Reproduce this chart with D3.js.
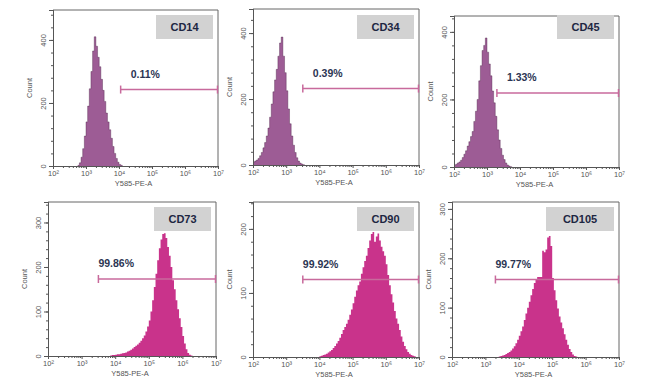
<!DOCTYPE html>
<html>
<head>
<meta charset="utf-8">
<script src="https://cdn.jsdelivr.net/npm/d3@7"></script>
<style>
  body { margin: 0; background: #fff; }
  svg { font-family: "Liberation Sans", Arial, sans-serif; }
  .axis path, .axis line { stroke: #555; }
  .axis text { fill: #555; font-size: 7.5px; }
</style>
</head>
<body>
<div id="chart"></div>
<script>
// data
const markers = ["CD14", "CD34", "CD45", "CD73", "CD90", "CD105"];
const percents = ["0.11%", "0.39%", "1.33%", "99.86%", "99.92%", "99.77%"];
const yMaxes = [495, 473, 447, 346, 242, 314];
const yMajor = [[0, 200, 400], [0, 200, 400], [0, 200, 400], [0, 100, 200, 300], [0, 100, 200], [0, 100, 200, 300]];
const gateStart = [4.05, 3.5, 3.3, 3.5, 3.5, 3.3];   // log10 of gate left end
const binWidth = 0.05;
const binStart = [2.75, 2.0, 2.0, 3.85, 4.0, 3.4];   // log10 of first bin

const countsCD14 = [2, 10, 28, 55, 95, 140, 190, 245, 300, 365, 410, 380, 345, 315, 275, 240, 205, 168, 140, 115, 88, 62, 40, 24, 12, 5, 2];
const countsCD34 = [8, 12, 15, 20, 28, 38, 52, 68, 88, 112, 145, 185, 222, 258, 290, 330, 370, 388, 330, 280, 225, 170, 125, 88, 60, 38, 22, 12, 6, 3, 1];
const countsCD45 = [5, 8, 12, 15, 20, 28, 38, 48, 62, 75, 90, 105, 135, 165, 200, 255, 300, 345, 360, 382, 340, 305, 270, 225, 190, 150, 110, 80, 55, 35, 22, 12, 6, 3, 1];
const countsCD73 = [1, 2, 2, 3, 4, 4, 5, 6, 7, 8, 10, 12, 14, 17, 20, 23, 26, 30, 34, 40, 46, 55, 66, 80, 100, 125, 155, 185, 215, 242, 262, 274, 276, 265, 245, 225, 200, 170, 150, 125, 105, 85, 65, 45, 28, 15, 7, 3, 1];
const countsCD90 = [1, 2, 3, 4, 5, 7, 9, 11, 14, 17, 21, 25, 30, 36, 42, 47, 52, 58, 66, 74, 84, 94, 104, 112, 118, 130, 140, 150, 158, 170, 182, 192, 195, 180, 188, 193, 182, 172, 165, 158, 145, 128, 112, 98, 85, 72, 60, 52, 42, 32, 24, 17, 12, 8, 5, 3, 2, 1];
const countsCD105 = [1, 2, 3, 4, 6, 8, 10, 13, 17, 22, 28, 35, 43, 52, 62, 75, 88, 100, 112, 125, 138, 150, 158, 162, 162, 162, 215, 212, 218, 242, 245, 225, 160, 135, 115, 98, 82, 70, 58, 46, 35, 25, 16, 10, 5, 2, 1];
const allCounts = [countsCD14, countsCD34, countsCD45, countsCD73, countsCD90, countsCD105];

// layout of each small plot (pixels)
const frames = [
  {l: 53, r: 218, t: 10, b: 166},
  {l: 253, r: 419, t: 9, b: 165},
  {l: 454, r: 619, t: 16, b: 167},
  {l: 48, r: 216, t: 202, b: 356},
  {l: 253, r: 419, t: 202, b: 357},
  {l: 452, r: 619, t: 202, b: 357}
];

const width = 650, height = 388;
const sup = {2: "²", 3: "³", 4: "⁴", 5: "⁵", 6: "⁶", 7: "⁷"};

const svg = d3.select("#chart").append("svg")
  .attr("width", width).attr("height", height);

markers.forEach(function(name, i) {
  const f = frames[i];
  const top = i < 3;
  const fill = top ? "#9d5c95" : "#c9338b";

  const x = d3.scaleLog().domain([1e2, 1e7]).range([f.l, f.r]);
  const y = d3.scaleLinear().domain([0, yMaxes[i]]).range([f.b, f.t]);
  const g = svg.append("g");

  // frame: top + right borders
  g.append("path")
    .attr("d", `M${f.l},${f.t}H${f.r}V${f.b}`)
    .attr("fill", "none").attr("stroke", "#666").attr("stroke-width", 1);

  // histogram as steps
  const counts = allCounts[i];
  const pts = counts.map((c, k) => ({lx: binStart[i] + k * binWidth, c: c}));
  pts.push({lx: binStart[i] + counts.length * binWidth, c: 0});
  const area = d3.area()
    .curve(d3.curveStepAfter)
    .x(d => x(Math.pow(10, d.lx)))
    .y0(f.b)
    .y1(d => y(d.c));
  g.append("path").datum(pts)
    .attr("d", area)
    .attr("fill", fill);
  if (top) {
    const outline = d3.line()
      .curve(d3.curveStepAfter)
      .x(d => x(Math.pow(10, d.lx)))
      .y(d => y(d.c));
    g.append("path").datum(pts)
      .attr("d", outline)
      .attr("fill", "none")
      .attr("stroke", "#4e2449")
      .attr("stroke-width", 0.4);
  }

  // x axis
  const minor = [];
  for (let e = 2; e < 7; e++) for (let m = 2; m < 10; m++) minor.push(m * Math.pow(10, e));
  g.append("g").attr("class", "axis")
    .attr("transform", `translate(0,${f.b})`)
    .call(d3.axisBottom(x).tickValues(minor).tickSize(2).tickFormat(""));
  g.append("g").attr("class", "axis")
    .attr("transform", `translate(0,${f.b})`)
    .call(d3.axisBottom(x).tickValues([1e2, 1e3, 1e4, 1e5, 1e6, 1e7]).tickSize(3).tickPadding(2)
      .tickFormat(d => "10" + sup[Math.round(Math.log10(d))]));
  g.append("text")
    .attr("x", (f.l + f.r) / 2 - 2).attr("y", f.b + 20)
    .attr("text-anchor", "middle").attr("fill", "#555").attr("font-size", 7.5)
    .text("Y585-PE-A");

  // y axis
  const step = yMajor[i][1] / 5;
  const yMinor = d3.range(0, yMaxes[i], step);
  g.append("g").attr("class", "axis")
    .attr("transform", `translate(${f.l},0)`)
    .call(d3.axisLeft(y).tickValues(yMinor).tickSize(2).tickFormat(""));
  const ya = g.append("g").attr("class", "axis")
    .attr("transform", `translate(${f.l},0)`)
    .call(d3.axisLeft(y).tickValues(yMajor[i]).tickSize(4).tickFormat(d3.format("d")));
  ya.selectAll(".tick text")
    .attr("x", 0).attr("y", -7).attr("dy", 0)
    .attr("text-anchor", "middle")
    .attr("transform", "rotate(-90)");
  g.append("text")
    .attr("transform", `translate(${f.l - 21},${(f.t + f.b) / 2}) rotate(-90)`)
    .attr("text-anchor", "middle").attr("fill", "#555").attr("font-size", 7.5)
    .text("Count");

  // marker label box
  const bw = name.length > 4 ? 68 : 57;
  const by = top ? 15 : 207;
  g.append("rect")
    .attr("x", f.r - 5 - bw).attr("y", by)
    .attr("width", bw).attr("height", 24)
    .attr("fill", "#d2d2d2");
  g.append("text")
    .attr("x", f.r - 5 - bw / 2).attr("y", by + 16)
    .attr("text-anchor", "middle").attr("font-size", 11).attr("font-weight", "bold")
    .attr("fill", "#1d2642")
    .text(name);

  // gate line
  const gy = top ? y(yMaxes[i] * 0.49) : y(yMaxes[i] * 0.5);
  const gx0 = x(Math.pow(10, gateStart[i])), gx1 = f.r - 0.5;
  const gate = g.append("g").attr("stroke", "#c86a9c").attr("stroke-width", 1.5);
  gate.append("line").attr("x1", gx0).attr("x2", gx1).attr("y1", gy).attr("y2", gy);
  gate.append("line").attr("x1", gx0).attr("x2", gx0).attr("y1", gy - 4).attr("y2", gy + 4);
  gate.append("line").attr("x1", gx1).attr("x2", gx1).attr("y1", gy - 4).attr("y2", gy + 4);
  g.append("text")
    .attr("x", gx0 + (top ? 10 : 0)).attr("y", gy - 12)
    .attr("font-size", 10.5).attr("font-weight", "bold")
    .attr("fill", "#2b3553")
    .text(percents[i]);
});
</script>
</body>
</html>
